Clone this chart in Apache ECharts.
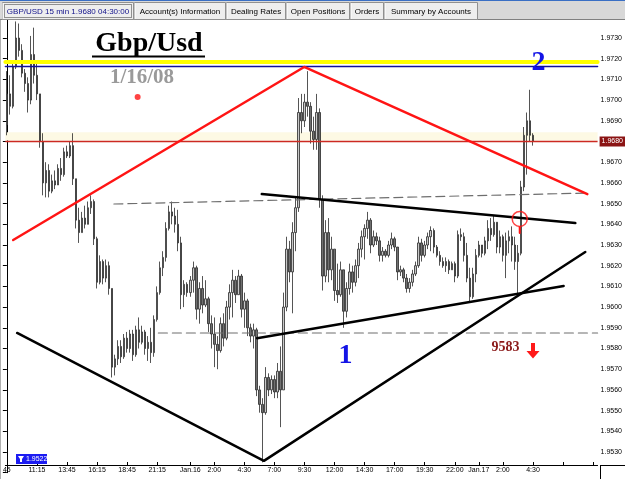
<!DOCTYPE html>
<html><head><meta charset="utf-8">
<script src="https://cdn.jsdelivr.net/npm/echarts@6/dist/echarts.min.js"></script>
<style>html,body{margin:0;padding:0;background:#fff;}#c{width:625px;height:479px;}</style>
</head><body><div id="c"></div>
<script>
const opens = [
1.9688,1.9703,1.9697,1.9716,1.9730,1.9724,1.9713,1.9708,1.9700,1.9722,
1.9712,1.9703,1.9680,1.9660,1.9666,1.9656,1.9661,1.9659,1.9667,1.9664,
1.9675,1.9673,1.9678,1.9662,1.9642,1.9636,1.9643,1.9640,1.9648,1.9651,
1.9633,1.9612,1.9622,1.9614,1.9620,1.9609,1.9571,1.9575,1.9581,1.9576,
1.9585,1.9580,1.9587,1.9577,1.9589,1.9583,1.9588,1.9580,1.9583,1.9578,
1.9594,1.9607,1.9619,1.9624,1.9638,1.9646,1.9644,1.9640,1.9631,1.9606,
1.9611,1.9607,1.9613,1.9619,1.9599,1.9609,1.9601,1.9604,1.9592,1.9587,
1.9582,1.9579,1.9592,1.9585,1.9600,1.9607,1.9613,1.9606,1.9615,1.9599,
1.9603,1.9590,1.9586,1.9589,1.9560,1.9553,1.9549,1.9566,1.9560,1.9565,
1.9559,1.9569,1.9560,1.9600,1.9628,1.9617,1.9636,1.9648,1.9694,1.9690,
1.9699,1.9697,1.9685,1.9681,1.9694,1.9652,1.9615,1.9636,1.9618,1.9628,
1.9608,1.9606,1.9618,1.9598,1.9609,1.9617,1.9612,1.9620,1.9628,1.9634,
1.9638,1.9642,1.9630,1.9634,1.9632,1.9625,1.9627,1.9625,1.9630,1.9633,
1.9629,1.9617,1.9618,1.9614,1.9609,1.9612,1.9616,1.9620,1.9631,1.9625,
1.9630,1.9634,1.9637,1.9629,1.9625,1.9622,1.9620,1.9622,1.9618,1.9621,
1.9615,1.9635,1.9634,1.9625,1.9614,1.9605,1.9616,1.9625,1.9630,1.9626,
1.9632,1.9638,1.9635,1.9641,1.9629,1.9634,1.9625,1.9632,1.9634,1.9630,
1.9622,1.9626,1.9658,1.9683,1.9690,1.9683];
const closes = [
1.9703,1.9697,1.9716,1.9730,1.9724,1.9713,1.9708,1.9700,1.9722,1.9712,
1.9703,1.9680,1.9660,1.9666,1.9656,1.9661,1.9659,1.9667,1.9664,1.9675,
1.9673,1.9678,1.9662,1.9642,1.9636,1.9643,1.9640,1.9648,1.9651,1.9633,
1.9612,1.9622,1.9614,1.9620,1.9609,1.9571,1.9575,1.9581,1.9576,1.9585,
1.9580,1.9587,1.9577,1.9589,1.9583,1.9588,1.9580,1.9583,1.9578,1.9594,
1.9607,1.9619,1.9624,1.9638,1.9646,1.9644,1.9640,1.9631,1.9606,1.9611,
1.9607,1.9613,1.9619,1.9599,1.9609,1.9601,1.9604,1.9592,1.9587,1.9582,
1.9579,1.9592,1.9585,1.9600,1.9607,1.9613,1.9606,1.9615,1.9599,1.9603,
1.9590,1.9586,1.9589,1.9560,1.9553,1.9549,1.9566,1.9560,1.9565,1.9559,
1.9569,1.9560,1.9600,1.9628,1.9617,1.9636,1.9648,1.9694,1.9690,1.9699,
1.9697,1.9685,1.9681,1.9694,1.9652,1.9615,1.9636,1.9618,1.9628,1.9608,
1.9606,1.9618,1.9598,1.9609,1.9617,1.9612,1.9620,1.9628,1.9634,1.9638,
1.9642,1.9630,1.9634,1.9632,1.9625,1.9627,1.9625,1.9630,1.9633,1.9629,
1.9617,1.9618,1.9614,1.9609,1.9612,1.9616,1.9620,1.9631,1.9625,1.9630,
1.9634,1.9637,1.9629,1.9625,1.9622,1.9620,1.9622,1.9618,1.9621,1.9615,
1.9635,1.9634,1.9625,1.9614,1.9605,1.9616,1.9625,1.9630,1.9626,1.9632,
1.9638,1.9635,1.9641,1.9629,1.9634,1.9625,1.9632,1.9634,1.9630,1.9622,
1.9626,1.9658,1.9683,1.9690,1.9683,1.9680];
const highs = [
1.9714,1.9712,1.9718,1.9738,1.9737,1.9727,1.9715,1.9711,1.9731,1.9735,
1.9718,1.9703,1.9684,1.9670,1.9669,1.9664,1.9666,1.9669,1.9672,1.9677,
1.9678,1.9680,1.9684,1.9662,1.9648,1.9646,1.9649,1.9651,1.9654,1.9652,
1.9634,1.9625,1.9623,1.9623,1.9622,1.9609,1.9577,1.9584,1.9584,1.9587,
1.9588,1.9589,1.9589,1.9591,1.9595,1.9591,1.9589,1.9586,1.9590,1.9596,
1.9610,1.9622,1.9627,1.9641,1.9649,1.9651,1.9648,1.9647,1.9634,1.9613,
1.9612,1.9615,1.9622,1.9620,1.9612,1.9615,1.9613,1.9605,1.9596,1.9595,
1.9586,1.9595,1.9597,1.9603,1.9611,1.9618,1.9615,1.9618,1.9616,1.9607,
1.9604,1.9592,1.9592,1.9590,1.9562,1.9556,1.9571,1.9568,1.9567,1.9567,
1.9573,1.9581,1.9607,1.9634,1.9632,1.9641,1.9653,1.9701,1.9703,1.9703,
1.9714,1.9699,1.9692,1.9703,1.9696,1.9654,1.9642,1.9643,1.9634,1.9628,
1.9621,1.9622,1.9618,1.9612,1.9621,1.9620,1.9623,1.9631,1.9637,1.9640,
1.9646,1.9643,1.9637,1.9636,1.9634,1.9629,1.9628,1.9632,1.9636,1.9634,
1.9629,1.9620,1.9619,1.9616,1.9614,1.9618,1.9622,1.9634,1.9633,1.9632,
1.9636,1.9639,1.9638,1.9630,1.9627,1.9624,1.9624,1.9623,1.9622,1.9622,
1.9637,1.9638,1.9636,1.9631,1.9619,1.9619,1.9628,1.9632,1.9630,1.9634,
1.9642,1.9643,1.9644,1.9641,1.9637,1.9635,1.9636,1.9637,1.9639,1.9634,
1.9630,1.9661,1.9687,1.9694,1.9705,1.9684];
const lows = [
1.9683,1.9693,1.9696,1.9715,1.9721,1.9711,1.9704,1.9694,1.9698,1.9708,
1.9700,1.9677,1.9654,1.9653,1.9653,1.9655,1.9657,1.9659,1.9661,1.9663,
1.9672,1.9672,1.9659,1.9638,1.9631,1.9636,1.9638,1.9640,1.9645,1.9630,
1.9609,1.9611,1.9611,1.9612,1.9606,1.9566,1.9567,1.9572,1.9573,1.9575,
1.9578,1.9578,1.9574,1.9576,1.9580,1.9582,1.9577,1.9574,1.9573,1.9576,
1.9593,1.9606,1.9615,1.9622,1.9637,1.9640,1.9636,1.9627,1.9599,1.9600,
1.9605,1.9605,1.9607,1.9594,1.9592,1.9597,1.9600,1.9588,1.9580,1.9571,
1.9570,1.9578,1.9581,1.9584,1.9594,1.9595,1.9602,1.9606,1.9595,1.9590,
1.9586,1.9583,1.9580,1.9557,1.9549,1.9525,1.9548,1.9557,1.9558,1.9556,
1.9556,1.9542,1.9560,1.9598,1.9612,1.9597,1.9627,1.9646,1.9684,1.9687,
1.9692,1.9679,1.9676,1.9676,1.9648,1.9608,1.9612,1.9612,1.9613,1.9603,
1.9602,1.9605,1.9590,1.9595,1.9606,1.9607,1.9610,1.9614,1.9624,1.9623,
1.9633,1.9626,1.9629,1.9630,1.9622,1.9622,1.9624,1.9624,1.9628,1.9627,
1.9613,1.9615,1.9612,1.9607,1.9607,1.9610,1.9615,1.9619,1.9622,1.9624,
1.9628,1.9627,1.9626,1.9624,1.9620,1.9619,1.9617,1.9616,1.9618,1.9612,
1.9614,1.9632,1.9622,1.9612,1.9602,1.9604,1.9612,1.9624,1.9624,1.9625,
1.9628,1.9632,1.9634,1.9626,1.9626,1.9622,1.9614,1.9626,1.9622,1.9618,
1.9606,1.9625,1.9656,1.9664,1.9680,1.9678];

// time axis: 15-minute bars from Jan.15 8:45, axis continues past the last bar
const slotCount = 197;
const tickIdx    = [0,10,20,30,40,50,61,69,79,89,99,109,119,129,139,149,157,165,175,185,195];
const tickLabels = ['45','11:15','13:45','16:15','18:45','21:15','Jan.16','2:00','4:30','7:00','9:30','12:00','14:30','17:00','19:30','22:00','Jan.17','2:00','4:30','',''];
const yTickMin = 1.9520, yTickMax = 1.9740, yStep = 0.0010;

// horizontal levels
const lastPrice = 1.9680;
const yellowLevel = 1.97184;
const blueLevel = 1.97162;
const spreadBand = [1.96805, 1.96845];
const lowMark = '1.9522';

// drawn annotations [bar index, price]
const redWedge   = [[2.1,1.96324],[98.9,1.97160],[193.1,1.96546]];
const blackV     = [[3.4,1.95875],[85.5,1.95257],[192.4,1.96266]];
const triLower   = [[83.2,1.95850],[185.2,1.96102]];
const triUpper   = [[84.8,1.96546],[189.1,1.96406]];
const dashUpper  = [[35.6,1.96498],[193.1,1.96551]];
const dashLower  = [[50.4,1.95875],[196.5,1.95875]];
const redStem    = [[170.6,1.96386],[170.6,1.96358]];
const circleMark = [[170.6,1.96426]];
const dotMark    = [[43.5,1.97015]];

const cats = [];
for (let i = 0; i < slotCount; i++) {
  const t = 8*60+45 + 15*i;
  const d = 15 + Math.floor(t/1440), m = t % 1440;
  cats.push('Jan.' + d + ' ' + Math.floor(m/60) + ':' + String(m%60).padStart(2,'0'));
}
const candles = opens.map((o,i)=>[o, closes[i], lows[i], highs[i]]);

const small = '"Liberation Sans Narrow","Liberation Sans",Arial,sans-serif';
const serif = '"Liberation Serif","Times New Roman",serif';

function lineSeries(data, color, width, type, z) {
  return {type:'line', xAxisIndex:1, yAxisIndex:0, data:data, symbol:'none', silent:true,
    animation:false, z:z||5, itemStyle:{color:color}, lineStyle:{color:color, width:width, type:type||'solid', cap:'round'}};
}

const tabs = [
  {t:'GBP/USD 15 min 1.9680 04:30:00', x:2, w:132, active:true},
  {t:'Account(s) Information', x:134, w:92},
  {t:'Dealing Rates', x:226, w:60},
  {t:'Open Positions', x:286, w:64},
  {t:'Orders', x:350, w:34},
  {t:'Summary by Accounts', x:384, w:94}
];
const graphics = [
  {type:'rect', shape:{x:0,y:0,width:625,height:20}, style:{fill:'#d8d8d8'}, z:100},
  {type:'rect', shape:{x:0,y:0,width:625,height:1}, style:{fill:'#3a6fc4'}, z:101},
  {type:'line', shape:{x1:0,y1:19.5,x2:625,y2:19.5}, style:{stroke:'#808080',lineWidth:1}, z:101}
];
tabs.forEach(tb=>{
  graphics.push({type:'rect', shape:{x:tb.x+0.5,y:2.5,width:tb.w-1,height:17}, style:{fill:'#eeeeee',stroke:'#909090',lineWidth:1}, z:102});
  graphics.push({type:'line', shape:{x1:tb.x+1,y1:3,x2:tb.x+1,y2:19}, style:{stroke:'#ffffff',lineWidth:1}, z:103});
  graphics.push({type:'text', style:{text:tb.t, x:tb.x+tb.w/2, y:11.5, align:'center', verticalAlign:'middle',
    font:'8px "Liberation Sans",Arial,sans-serif', fill: tb.active ? '#10108a' : '#000'}, z:104});
});
graphics.push({type:'rect', shape:{x:4.5,y:4.5,width:127,height:13}, style:{fill:'none',stroke:'#333',lineWidth:1,lineDash:[1,1]}, z:105});
graphics.push(
  {type:'line', shape:{x1:0.5,y1:20,x2:0.5,y2:479}, style:{stroke:'#b0b0b0',lineWidth:1}, z:50},
  {type:'line', shape:{x1:600,y1:465.5,x2:625,y2:465.5}, style:{stroke:'#000',lineWidth:1}, z:50},
  {type:'line', shape:{x1:600.5,y1:465,x2:600.5,y2:479}, style:{stroke:'#000',lineWidth:1}, z:50},
  {type:'text', style:{text:'Gbp/Usd', x:149, y:44, align:'center', verticalAlign:'middle', font:'bold 28px '+serif, fill:'#000'}, z:60},
  {type:'rect', shape:{x:92,y:55.5,width:113,height:2}, style:{fill:'#000'}, z:60},
  {type:'text', style:{text:'1/16/08', x:142, y:78, align:'center', verticalAlign:'middle', font:'bold 21px '+serif, fill:'#9a9a9a'}, z:60},
  {type:'text', style:{text:'2', x:538.5, y:63, align:'center', verticalAlign:'middle', font:'bold 28px '+serif, fill:'#1414e6'}, z:60},
  {type:'text', style:{text:'1', x:345.5, y:356, align:'center', verticalAlign:'middle', font:'bold 28px '+serif, fill:'#1414e6'}, z:60},
  {type:'text', style:{text:'9583', x:505.5, y:347, align:'center', verticalAlign:'middle', font:'bold 14px '+serif, fill:'#8b1a1a'}, z:60},
  {type:'polygon', shape:{points:[[531,343],[535,343],[535,351],[539.5,351],[533,358.5],[526.5,351],[531,351]]}, style:{fill:'#ff1a1a'}, z:60},
  {type:'rect', shape:{x:16,y:454,width:31,height:10}, style:{fill:'#1c1cf2'}, z:60},
  {type:'polygon', shape:{points:[[18,456],[24,456],[22,459],[22,462],[20,462],[20,459]]}, style:{fill:'#fff'}, z:61},
  {type:'text', style:{text:lowMark, x:26, y:459.5, align:'left', verticalAlign:'middle', font:'7px '+small, fill:'#fff'}, z:61}
);

// price level: a value-x line series carrying the spread band and the last-price mark line
const priceSeries = lineSeries(dashLower, '#6e6e6e', 1.2, [9,5], 5);
priceSeries.markArea = {silent:true, itemStyle:{color:'#fdf9e4'}, data:[[{yAxis:spreadBand[0]},{yAxis:spreadBand[1]}]]};
priceSeries.markLine = {silent:true, symbol:['none','none'], animation:false, precision:5,
  data:[{yAxis:lastPrice}],
  lineStyle:{color:'#cc2a22', width:1.3, type:'solid', opacity:1},
  label:{show:true, position:'end', distance:2, formatter:()=>lastPrice.toFixed(4), color:'#fff', backgroundColor:'#8b1414',
    fontSize:7, fontFamily:small, padding:[2,2,1,2]}};

const chart = echarts.init(document.getElementById('c'), null, {renderer:'canvas'});
chart.setOption({
  animation:false,
  backgroundColor:'#ffffff',
  grid:{left:0, right:25, top:17.3, bottom:6.3, containLabel:false},
  xAxis:[
    {type:'category', data:cats, boundaryGap:true, offset:-7.7,
     axisLine:{lineStyle:{color:'#000',width:1}},
     axisTick:{show:true, inside:true, length:3, alignWithLabel:true, interval:(i)=>tickIdx.indexOf(i)>=0, lineStyle:{color:'#000'}},
     axisLabel:{interval:(i)=>tickIdx.indexOf(i)>=0, formatter:(v,i)=>{const k=tickIdx.indexOf(i);return k>=0?tickLabels[k]:'';},
       fontSize:7, fontFamily:small, color:'#000', margin:2},
     splitLine:{show:false}},
    {type:'value', min:-0.5, max:slotCount-0.5, show:false}
  ],
  yAxis:[{type:'value', position:'right', min:yTickMin, max:yTickMax, interval:yStep,
    axisLine:{show:true, lineStyle:{color:'#000',width:1}},
    axisTick:{show:true, inside:true, length:4, lineStyle:{color:'#000'}},
    axisLabel:{fontSize:7, fontFamily:small, color:'#000', margin:3,
      formatter:(v)=> (v < 1.9525 || v > 1.9735) ? '' : v.toFixed(4)},
    splitLine:{show:false}}],
  graphic:graphics,
  series:[
    priceSeries,
    {type:'candlestick', xAxisIndex:0, yAxisIndex:0, data:candles, barWidth:2, z:3,
     itemStyle:{color:'#c8c8c8', color0:'#707070', borderColor:'#2a2a2a', borderColor0:'#2a2a2a', borderWidth:0.8}},
    lineSeries([[-0.5,yellowLevel],[slotCount-0.5,yellowLevel]], '#ffff00', 4, 'solid', 6),
    lineSeries([[-0.5,blueLevel],[slotCount-0.5,blueLevel]], '#10109a', 1.5, 'solid', 6),
    lineSeries(dashUpper, '#6e6e6e', 1.2, [9,5], 5),
    lineSeries(redWedge, '#ff1414', 2.5, 'solid', 7),
    lineSeries(blackV, '#000', 2.5, 'solid', 7),
    lineSeries(triLower, '#000', 2.5, 'solid', 7),
    lineSeries(triUpper, '#000', 2.5, 'solid', 7),
    lineSeries(redStem, '#ff1414', 2, 'solid', 7),
    {type:'scatter', xAxisIndex:1, yAxisIndex:0, data:circleMark, symbol:'circle', symbolSize:15, silent:true, z:8,
     itemStyle:{color:'rgba(0,0,0,0)', borderColor:'#ff1414', borderWidth:1.5}},
    {type:'scatter', xAxisIndex:1, yAxisIndex:0, data:dotMark, symbol:'circle', symbolSize:6, silent:true, z:8,
     itemStyle:{color:'#ff1414'}}
  ]
});
</script></body></html>
